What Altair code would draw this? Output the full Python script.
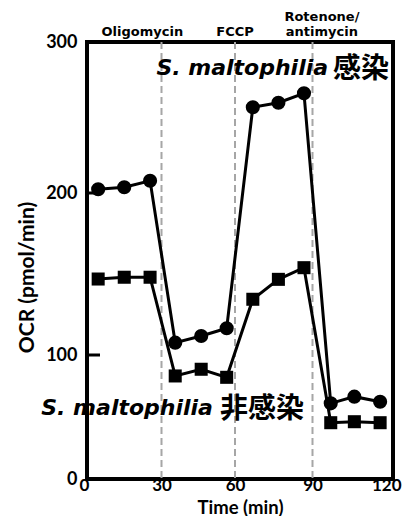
import altair as alt
import pandas as pd

# Data
time_min = [4.5, 15.0, 25.4, 35.6, 46.2, 56.6, 66.9, 76.8, 86.7, 96.8, 105.6, 115.2]
infected = [202.5, 203.8, 208.1, 107.6, 111.7, 116.5, 256.8, 259.8, 266.0, 61.0, 66.4, 62.3]
uninfected = [146.9, 148.0, 148.0, 83.1, 88.5, 82.0, 134.4, 146.7, 153.9, 45.4, 46.2, 45.4]

injection_times = [30, 60, 90]
x_ticks = [0, 30, 60, 90, 120]
y_ticks = [0, 100, 200, 300]
inner_ticks = [100, 200]

df = pd.DataFrame(
    {
        "time": time_min * 2,
        "ocr": infected + uninfected,
        "group": ["infected"] * len(time_min) + ["uninfected"] * len(time_min),
    }
)
df_inf = pd.DataFrame({"time": time_min, "ocr": infected})
df_un = pd.DataFrame({"time": time_min, "ocr": uninfected})
df_inj = pd.DataFrame({"time": injection_times})
df_ticks = pd.DataFrame({"ocr": inner_ticks})

W, H = 306, 437
xscale = alt.Scale(domain=x_ticks, range=[0, 74.5, 148, 225.5, W], nice=False)
yscale = alt.Scale(domain=y_ticks, range=[H, 313, 151, 0], nice=False)

AX_FONT = "Lato"

xaxis = alt.Axis(
    values=x_ticks, ticks=False, domain=False, grid=False,
    labelFlush=True, labelFlushOffset=8,
    labelFont=AX_FONT, labelFontWeight="bold", labelFontSize=17, labelColor="black",
    labelPadding=-2, title="Time (min)", titleFont=AX_FONT, titleFontWeight="bold",
    titleFontSize=18.5, titleColor="black", titleY=28, titleBaseline="middle",
)
yaxis = alt.Axis(
    values=y_ticks, ticks=False, domain=False, grid=False,
    labelFont=AX_FONT, labelFontWeight="bold", labelFontSize=18, labelColor="black",
    labelPadding=10, title="OCR (pmol/min)", titleFont=AX_FONT, titleFontWeight="bold",
    titleFontSize=21, titleColor="black", titleX=-60, titleY=235, titleAngle=270,
    titleAlign="center", titleBaseline="middle",
)

inj = alt.Chart(df_inj).mark_rule(color="#a6a6a6", strokeDash=[7, 4], strokeWidth=2).encode(
    x=alt.X("time:Q", scale=xscale, axis=xaxis)
)

lines = alt.Chart(df).mark_line(color="black", strokeWidth=3).encode(
    x=alt.X("time:Q", scale=xscale, axis=xaxis),
    y=alt.Y("ocr:Q", scale=yscale, axis=yaxis),
    detail="group:N",
    order="time:Q",
)

circles = alt.Chart(df_inf).mark_point(shape="circle", filled=True, color="black", size=200, opacity=1).encode(
    x=alt.X("time:Q", scale=xscale), y=alt.Y("ocr:Q", scale=yscale)
)
squares = alt.Chart(df_un).mark_point(shape="square", filled=True, color="black", size=170, opacity=1).encode(
    x=alt.X("time:Q", scale=xscale), y=alt.Y("ocr:Q", scale=yscale)
)

ticks_in = alt.Chart(df_ticks).mark_rule(color="black", strokeWidth=3).encode(
    y=alt.Y("ocr:Q", scale=yscale), x=alt.value(0), x2=alt.value(13)
)

# Injection labels above the plot
top_labels = pd.DataFrame(
    {
        "time": [22.3, 60.0, 93.5, 93.5],
        "text": ["Oligomycin", "FCCP", "Rotenone/", "antimycin"],
        "py": [-6, -6, -21.5, -6],
    }
)
top_text = alt.Chart(top_labels).mark_text(
    font="DejaVu Sans", fontWeight="bold", fontSize=13, color="black", align="center", baseline="alphabetic"
).encode(x=alt.X("time:Q", scale=xscale), y=alt.Y("py:Q", scale=None), text="text:N")

# Series labels
lat = pd.DataFrame({"time": [95.8, 51.0], "ocr": [278.1, 51.6], "text": ["S. maltophilia", "S. maltophilia"]})
cjk = pd.DataFrame({"time": [97.6, 53.9], "ocr": [278.1, 51.6], "text": ["感染", "非感染"]})
lat_text = alt.Chart(lat).mark_text(
    font="DejaVu Sans", fontWeight="bold", fontStyle="italic", fontSize=22, color="black",
    align="right", baseline="alphabetic",
).encode(x=alt.X("time:Q", scale=xscale), y=alt.Y("ocr:Q", scale=yscale), text="text:N")
cjk_text = alt.Chart(cjk).mark_text(
    font="Noto Sans CJK JP", fontWeight="bold", fontSize=28, color="black",
    align="left", baseline="alphabetic", dy=3,
).encode(x=alt.X("time:Q", scale=xscale), y=alt.Y("ocr:Q", scale=yscale), text="text:N")

chart = (
    alt.layer(inj, lines, circles, squares, ticks_in, top_text, lat_text, cjk_text)
    .properties(
        width=W, height=H,
        padding={"left": 79, "top": 34, "right": 9, "bottom": 37},
        autosize=alt.AutoSizeParams(type="none"),
        background="white",
    )
    .configure_view(stroke="black", strokeWidth=4)
)

chart.save("out.html", embed_options={"renderer": "svg", "actions": False})
